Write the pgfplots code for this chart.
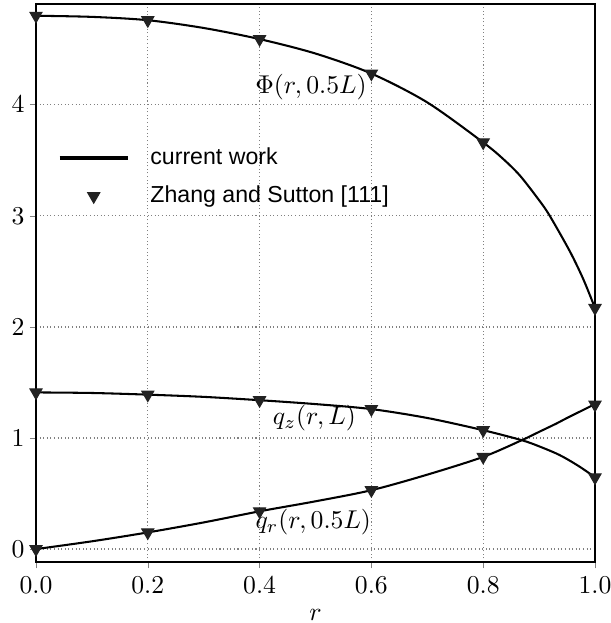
\documentclass[border=0pt]{standalone}
\usepackage{fontspec}
\newfontfamily\legfont{Liberation Sans}
\usepackage{pgfplots}
\pgfplotsset{compat=1.18}
\definecolor{mk}{HTML}{222222}
\pgfplotsset{
  legline/.style={legend image code/.code={\draw[##1] (0pt,0pt) -- (26.5pt,0pt);}},
  legmark/.style={legend image code/.code={\draw[##1] plot coordinates {(13.25pt,0pt)};}},
}
\begin{document}
\begin{tikzpicture}
\begin{axis}[
  scale only axis, width=217.5pt, height=217.1pt,
  xmin=0, xmax=1, ymin=-0.117, ymax=4.905,
  xtick={0,0.2,0.4,0.6,0.8,1.0}, ytick={0,1,2,3,4},
  xticklabel style={/pgf/number format/.cd, fixed, fixed zerofill, precision=1},
  yticklabel style={xshift=1.5pt},
  grid=major, major grid style={densely dotted, gray, line width=0.5pt},
  tick align=outside, major tick length=2.4pt, tick pos=left,
  axis line style={line width=0.7pt},
  xlabel={$r$},
  xlabel style={inner sep=0pt, yshift=-2.4pt},
  legend cell align=left,
  legend style={draw=none, fill=none, at={(0.024,0.69)}, anchor=west,
    font=\legfont\fontsize{9}{11}\selectfont,
    nodes={inner sep=1pt, text height=7pt, text depth=2pt},
    row sep=3.9pt,
    /tikz/every odd column/.append style={column sep=7.0pt}},
]
\addlegendimage{black, line width=1.6pt, legline}
\addlegendentry{current work}
\addlegendimage{only marks, mark=triangle*, mark size=2.7pt, mark options={rotate=180, fill=mk, draw=mk}, legmark}
\addlegendentry{Zhang and Sutton [111]}

% current work curves
\addplot[black, line width=0.8pt, smooth, tension=0.5, forget plot] coordinates {
(0,4.80) (0.1,4.79) (0.2,4.76) (0.3,4.69) (0.4,4.59) (0.5,4.46) (0.6,4.28) (0.7,4.02) (0.8,3.66) (0.836,3.51) (0.866,3.36) (0.9,3.14) (0.919,3.0) (0.955,2.68) (0.979,2.43) (1.0,2.17)};
\addplot[black, line width=0.8pt, smooth, tension=0.5, forget plot] coordinates {
(0,1.41) (0.1,1.405) (0.2,1.39) (0.3,1.37) (0.4,1.34) (0.5,1.305) (0.6,1.26) (0.7,1.18) (0.8,1.07) (0.869,0.98) (0.9,0.925) (0.931,0.86) (0.95,0.81) (0.973,0.74) (1.0,0.647)};
\addplot[black, line width=0.8pt, smooth, tension=0.5, forget plot] coordinates {
(0,0) (0.1,0.07) (0.2,0.15) (0.3,0.24) (0.4,0.34) (0.5,0.43) (0.6,0.53) (0.7,0.67) (0.8,0.83) (0.869,0.98) (0.9,1.055) (0.931,1.13) (0.95,1.18) (1.0,1.305)};

% Zhang and Sutton
\addplot[only marks, mark=triangle*, mark size=2.7pt, mark options={rotate=180, fill=mk, draw=mk}, forget plot] coordinates {
(0,4.80) (0.2,4.76) (0.4,4.59) (0.6,4.28) (0.8,3.66) (1.0,2.17)};
\addplot[only marks, mark=triangle*, mark size=2.7pt, mark options={rotate=180, fill=mk, draw=mk}, forget plot] coordinates {
(0,1.41) (0.2,1.39) (0.4,1.34) (0.6,1.26) (0.8,1.07) (1.0,0.645)};
\addplot[only marks, mark=triangle*, mark size=2.7pt, mark options={rotate=180, fill=mk, draw=mk}, forget plot] coordinates {
(0,0) (0.2,0.15) (0.4,0.34) (0.6,0.53) (0.8,0.83) (1.0,1.30)};

\node at (axis cs:0.492,4.16) {$\Phi(r,0.5L)$};
\node at (axis cs:0.498,1.18) {$q_z(r,L)$};
\node at (axis cs:0.496,0.24) {$q_r(r,0.5L)$};
\end{axis}
\pgfresetboundingbox
\path (current axis.south west) ++(-14pt,-23.7pt) coordinate (a);
\path (current axis.north east) ++(6.2pt,1.6pt) coordinate (b);
\path (a) rectangle (b);
\end{tikzpicture}
\end{document}
